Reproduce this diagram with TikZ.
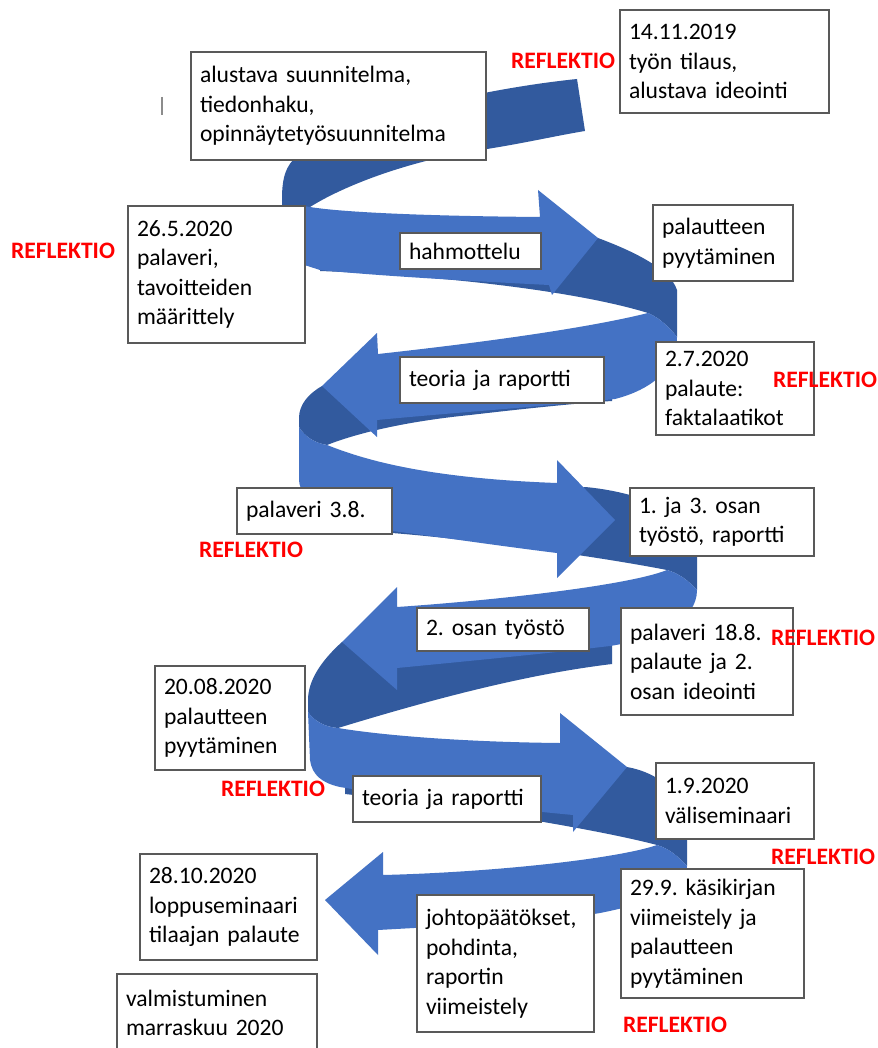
\documentclass[tikz,border=0pt]{standalone}
\usepackage{fontspec}
\setmainfont{Carlito}
\frenchspacing
\definecolor{lightb}{HTML}{4472C4}
\definecolor{darkb}{HTML}{325A9E}
\definecolor{refred}{HTML}{FF0000}
\tikzset{
  box/.style={draw=black!65, fill=white, line width=0.8pt, inner xsep=6.75pt, inner ysep=0pt,
    align=left, font=\fontsize{17.7}{22.1}\selectfont\frenchspacing},
  refl/.style={text=refred, font=\fontsize{17.7}{22}\selectfont\bfseries, inner sep=0pt},
  front/.style={fill=lightb},
  back/.style={fill=darkb},
}
\newcommand\spbox[6]{%
  \pgfmathsetmacro\spbw{(#4-#2)*0.75}%
  \pgfmathsetmacro\spbh{(#5-#3)*0.75}%
  \pgfmathsetmacro\spbt{(#4-#2-18)*0.75}%
  \node[box, minimum width=\spbw pt, minimum height=\spbh pt, text width=\spbt pt] (#1) at ({(#2+#4)/2},{(#3+#5)/2}) {#6};}
\begin{document}
\begin{tikzpicture}[x=0.75pt,y=-0.75pt]
\useasboundingbox (0,0) rectangle (877,1048);
\fill[white] (0,0) rectangle (877,1048);

% ---- back (dark) parts of the spiral ----
\fill[back] (577,79) .. controls (470,90) and (330,125) .. (293,160)
  .. controls (284,170) and (282,182) .. (282,200) -- (283,230) -- (305,230) -- (310,207)
  .. controls (350,182) and (420,158) .. (487,149) .. controls (525,143) and (560,135) .. (585,131) -- cycle;
\fill[back] (450,250) -- (598,238) .. controls (630,250) and (670,268) .. (677,290) -- (677,337)
  .. controls (670,328) and (660,318) .. (648,313) .. controls (580,292) and (450,276) .. (320,271) -- (320,262) -- cycle;
\fill[back] (500,378) -- (322,386) .. controls (308,394) and (299,405) .. (299,418) -- (299,427)
  .. controls (305,437) and (315,443) .. (327,445) .. controls (360,432) and (410,421) .. (470,415)
  .. controls (530,408) and (580,403) .. (612,401) -- (612,385) -- cycle;
\fill[back] (520,505) -- (585,487) .. controls (620,490) and (690,505) .. (697,545) -- (697,590)
  .. controls (688,580) and (678,573) .. (667,570) .. controls (600,557) and (480,540) .. (392,533) -- (392,515) -- cycle;
\fill[back] (500,625) -- (342,642) .. controls (322,660) and (308,680) .. (308,700) -- (308,712)
  .. controls (315,722) and (326,727) .. (338,728) .. controls (420,703) and (520,675) .. (612,664) -- (612,640) -- cycle;
\fill[back] (520,775) -- (627,767) .. controls (660,773) and (687,795) .. (687,830) -- (687,866)
  .. controls (678,856) and (668,848) .. (657,845) .. controls (600,830) and (470,808) .. (345,794) -- (345,780) -- cycle;

% ---- front (light) arrows ----
\fill[front] (295,205) -- (310,207) .. controls (340,212) and (420,216) .. (540,217) -- (538,190) -- (598,238)
  -- (552,295) -- (549,285) .. controls (470,281) and (380,276) .. (320,270) -- (295,262) -- cycle;
\fill[front] (648,313) .. controls (580,330) and (460,345) .. (378,354) -- (377,333) -- (322,386) -- (377,437)
  -- (377,420) .. controls (450,413) and (560,405) .. (615,399) .. controls (650,390) and (677,370) .. (677,337)
  .. controls (670,328) and (660,318) .. (648,313) -- cycle;
\fill[front] (299,427) .. controls (305,437) and (315,443) .. (327,445) .. controls (360,458) and (420,478) .. (557,483)
  -- (557,460) -- (615,520) -- (557,578) -- (557,553) .. controls (500,546) and (440,537) .. (392,531)
  .. controls (340,522) and (300,505) .. (299,480) -- cycle;
\fill[front] (667,570) .. controls (630,585) and (500,600) .. (397,607) -- (397,587) -- (342,642) -- (397,690)
  -- (397,668) .. controls (480,660) and (560,652) .. (610,646) .. controls (660,638) and (697,620) .. (697,590)
  .. controls (688,580) and (678,573) .. (667,570) -- cycle;
\fill[front] (308,712) .. controls (315,722) and (326,727) .. (338,728) .. controls (380,735) and (460,742) .. (560,743)
  -- (560,713) -- (627,767) -- (573,832) -- (573,815) .. controls (500,808) and (400,797) .. (340,787)
  .. controls (322,783) and (312,775) .. (310,760) -- cycle;
\fill[front] (657,845) .. controls (620,858) and (500,872) .. (383,875) -- (383,852) -- (325,900) -- (378,955)
  -- (378,930) .. controls (450,926) and (560,920) .. (600,913) .. controls (650,903) and (687,890) .. (687,866)
  .. controls (678,856) and (668,848) .. (657,845) -- cycle;

% ---- small grey mark ----
\draw[black!45, line width=1.4pt] (162,97) -- (162,115);

% ---- boxes ----
\spbox{b1}{620}{10}{829}{113}{14.11.2019\\työn~tilaus,\\alustava~ideointi}
\spbox{b2}{191}{52}{486}{160}{alustava~suunnitelma,\\tiedonhaku,\\opinnäytetyösuunnitelma}
\spbox{b3}{128}{206}{305}{343}{26.5.2020\\palaveri,\\tavoitteiden\\määrittely}
\spbox{b4}{400}{233}{541}{269}{hahmottelu}
\spbox{b5}{653}{205}{793}{281}{palautteen\\pyytäminen}
\spbox{b6}{400}{357}{604}{403}{teoria~ja~raportti}
\spbox{b7}{656}{342}{814}{435}{2.7.2020\\palaute:\\faktalaatikot}
\spbox{b8}{237}{488}{392}{534}{palaveri~3.8.}
\spbox{b9}{630}{488}{814}{556}{1.~ja~3.~osan\\työstö,~raportti}
\spbox{b10}{417}{608}{589}{651}{2.~osan~työstö}
\spbox{b11}{621}{608}{793}{715}{palaveri~18.8.\\palaute~ja~2.\\osan~ideointi}
\spbox{b12}{155}{666}{305}{770}{20.08.2020\\palautteen\\pyytäminen}
\spbox{b13}{353}{776}{541}{822}{teoria~ja~raportti}
\spbox{b14}{656}{763}{814}{839}{1.9.2020\\väliseminaari}
\spbox{b15}{140}{854}{317}{960}{28.10.2020\\loppuseminaari\\tilaajan~palaute}
\spbox{b16}{417}{895}{594}{1032}{johtopäätökset,\\pohdinta,\\raportin\\viimeistely}
\spbox{b17}{621}{869}{804}{998}{29.9.~käsikirjan\\viimeistely~ja\\palautteen\\pyytäminen}
\spbox{b18}{117}{974}{317}{1052}{valmistuminen\\marraskuu~2020}

% ---- REFLEKTIO labels ----
\node[refl] (r1) at (563,61) {REFLEKTIO};
\node[refl] (r2) at (63,251) {REFLEKTIO};
\node[refl] (r3) at (825,380) {REFLEKTIO};
\node[refl] (r4) at (251,550) {REFLEKTIO};
\node[refl] (r5) at (823,638) {REFLEKTIO};
\node[refl] (r6) at (273,789) {REFLEKTIO};
\node[refl] (r7) at (823,857) {REFLEKTIO};
\node[refl] (r8) at (675,1025) {REFLEKTIO};
\end{tikzpicture}
\end{document}
